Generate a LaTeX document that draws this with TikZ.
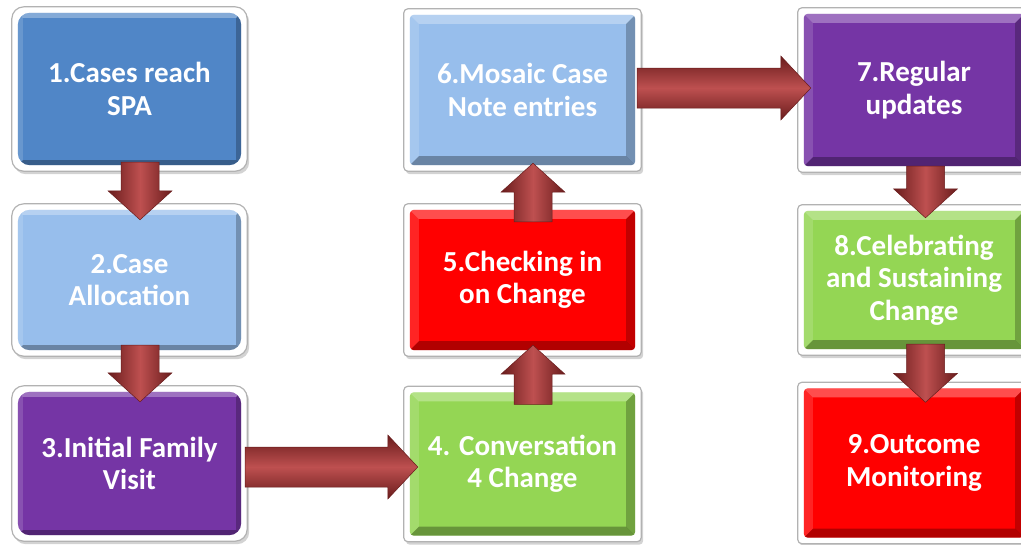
\documentclass[tikz,border=0pt]{standalone}
\usepackage{fontspec}
\setmainfont{Carlito}
\usetikzlibrary{calc,backgrounds,shadows}

\definecolor{boxblue}{RGB}{80,134,199}
\definecolor{boxlight}{RGB}{151,190,236}
\definecolor{boxpurple}{RGB}{117,53,165}
\definecolor{boxgreen}{RGB}{148,214,84}
\definecolor{boxred}{RGB}{255,0,0}
\definecolor{arrbase}{RGB}{163,58,58}
\definecolor{arrdark}{RGB}{105,28,28}
\definecolor{arrlight}{RGB}{190,80,80}

\tikzset{
  boxtext/.style={text=white, align=center, inner sep=0pt,
    font=\bfseries\fontsize{29}{32.5}\selectfont},
  rim/.style={fill=white, draw=gray!60, line width=1.2pt,
    drop shadow={opacity=0.35, shadow xshift=2pt, shadow yshift=-3pt}},
  arrv/.style={left color=arrdark, right color=arrdark, middle color=arrlight,
    draw=arrdark, line width=0.5pt},
  arrh/.style={top color=arrdark, bottom color=arrdark, middle color=arrlight,
    draw=arrdark, line width=0.5pt},
}

% #1 name, #2 centre, #3 width, #4 height, #5 colour, #6 corner radius, #7 bevel depth, #8 text
\newcommand\stepbox[8]{%
  \node[boxtext, minimum width=#3, minimum height=#4] (#1) at (#2) {#8};
  \begin{pgfonlayer}{background}
    \path[rim, rounded corners=#6]
      ($(#1.north west)+(-6,-6)$) rectangle ($(#1.south east)+(6,6)$);
    \fill[#5, rounded corners=#6] (#1.north west) rectangle (#1.south east);
    \begin{scope}
      \clip[rounded corners=#6] (#1.north west) rectangle (#1.south east);
      \fill[white, opacity=.30] (#1.north west) -- (#1.north east)
        -- ($(#1.north east)+(-#7,#7)$) -- ($(#1.north west)+(#7,#7)$) -- cycle;
      \fill[white, opacity=.14] (#1.north west) -- (#1.south west)
        -- ($(#1.south west)+(#7,-#7)$) -- ($(#1.north west)+(#7,#7)$) -- cycle;
      \fill[black, opacity=.30] (#1.south west) -- (#1.south east)
        -- ($(#1.south east)+(-#7,-#7)$) -- ($(#1.south west)+(#7,-#7)$) -- cycle;
      \fill[black, opacity=.24] (#1.north east) -- (#1.south east)
        -- ($(#1.south east)+(-#7,-#7)$) -- ($(#1.north east)+(-#7,#7)$) -- cycle;
    \end{scope}
  \end{pgfonlayer}
}

% block arrow running vertically from #1 to #2
\newcommand\varrow[2]{%
  \shade[arrv] let \p1=(#1), \p2=(#2), \n1={sign(\y2-\y1)} in
    ({\x1-19pt},\y1) -- ({\x1-19pt},{\y2-(\n1)*29pt})
    -- ({\x1-32pt},{\y2-(\n1)*29pt}) -- (\x1,\y2)
    -- ({\x1+32pt},{\y2-(\n1)*29pt}) -- ({\x1+19pt},{\y2-(\n1)*29pt})
    -- ({\x1+19pt},\y1) -- cycle;
}
% block arrow running horizontally from #1 to #2
\newcommand\harrow[2]{%
  \shade[arrh] let \p1=(#1), \p2=(#2), \n1={sign(\x2-\x1)} in
    (\x1,{\y1-20pt}) -- ({\x2-(\n1)*30pt},{\y1-20pt})
    -- ({\x2-(\n1)*30pt},{\y1-32pt}) -- (\x2,\y1)
    -- ({\x2-(\n1)*30pt},{\y1+32pt}) -- ({\x2-(\n1)*30pt},{\y1+20pt})
    -- (\x1,{\y1+20pt}) -- cycle;
}

\begin{document}
\begin{tikzpicture}[x=1pt, y=-1pt]
  \useasboundingbox (0,0) rectangle (1021,544);
  \clip (0,0) rectangle (1021,544);

  % first column
  \stepbox{b1}{129.5,89}{223pt}{152pt}{boxblue}{12pt}{5}{1.Cases reach\\SPA}
  \stepbox{b2}{129.5,280}{223pt}{140pt}{boxlight}{12pt}{5}{2.Case\\Allocation}
  \stepbox{b3}{129.5,463.5}{223pt}{143pt}{boxpurple}{12pt}{5}{3.Initial Family\\Visit}

  % second column
  \stepbox{b4}{522.5,464}{225pt}{143pt}{boxgreen}{4pt}{9}{4. Conversation\\4 Change}
  \stepbox{b5}{522.5,280}{225pt}{140pt}{boxred}{4pt}{9}{5.Checking in\\on Change}
  \stepbox{b6}{522.5,90}{225pt}{150pt}{boxlight}{4pt}{9}{6.Mosaic Case\\Note entries}

  % third column
  \stepbox{b7}{914,90}{220pt}{152pt}{boxpurple}{4pt}{9}{7.Regular\\updates}
  \stepbox{b8}{914,280}{220pt}{138pt}{boxgreen}{4pt}{9}{8.Celebrating\\and Sustaining\\Change}
  \stepbox{b9}{914,463}{220pt}{149pt}{boxred}{4pt}{9}{9.Outcome\\Monitoring}

  % connectors
  \varrow{$(b1.south)+(10.5,-3)$}{$(b2.north)+(10.5,10)$}
  \varrow{$(b2.south)+(10.5,-5)$}{$(b3.north)+(10.5,10)$}
  \harrow{$(b3.east)+(4,3.5)$}{$(b4.west)+(8,3)$}
  \varrow{$(b4.north)+(10.5,12)$}{$(b5.south)+(10.5,-5)$}
  \varrow{$(b5.north)+(10.5,12)$}{$(b6.south)+(10.5,-2)$}
  \harrow{$(b6.east)+(2,-2)$}{$(b7.west)+(7,-2)$}
  \varrow{$(b7.south)+(11.5,0)$}{$(b8.north)+(11.5,7)$}
  \varrow{$(b8.south)+(11.5,-5)$}{$(b9.north)+(11.5,14)$}
\end{tikzpicture}
\end{document}
